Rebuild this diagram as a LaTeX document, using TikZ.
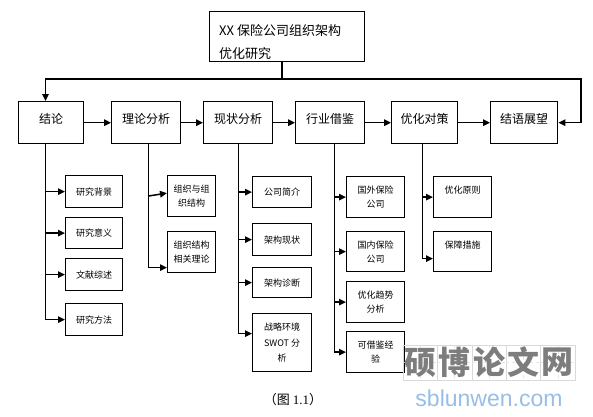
\documentclass[tikz,border=0pt]{standalone}
\usepackage{fontspec}
\setmainfont{Noto Sans CJK SC}
\newfontfamily\lser{Liberation Serif}
\newfontfamily\lsans{Liberation Sans}
\usetikzlibrary{arrows.meta,calc}
\definecolor{wmgrey}{RGB}{125,125,125}
\definecolor{wmblue}{RGB}{150,190,230}
\begin{document}
\begin{tikzpicture}[x=1pt,y=-1pt,
  tip/.tip={Triangle[length=7pt,width=6.5pt]},
  topbox/.style={draw, line width=1.4pt, anchor=north west, inner sep=0pt,
    minimum height=42pt, font=\fontsize{12}{14}\selectfont, text height=8pt, text depth=7pt},
  subbox/.style={draw, line width=1.2pt, anchor=north west, inner sep=0pt,
    align=center, font=\fontsize{9}{14}\selectfont},
  mainline/.style={line width=1.5pt},
  vline/.style={line width=0.9pt},
  stub/.style={line width=1.5pt, -tip},
  wmchar/.style={font=\fontsize{32}{32}\selectfont\bfseries, text=wmgrey, inner sep=0pt},
]
\useasboundingbox (0,0) rectangle (593,416);

% title
\node[draw, line width=1.4pt, anchor=north west, minimum width=155pt, minimum height=50pt, inner sep=0pt] (title) at (209,11) {};
\node[anchor=west, align=left, inner sep=0pt, font=\fontsize{13}{23}\selectfont] (titletext) at (219,42) {XX 保险公司组织架构\\优化研究};

% top row
\node[topbox, minimum width=65pt] (b1) at (18,101) {结论};
\node[topbox, minimum width=69pt] (b2) at (111,101) {理论分析};
\node[topbox, minimum width=69pt] (b3) at (203,101) {现状分析};
\node[topbox, minimum width=69pt] (b4) at (295,101) {行业借鉴};
\node[topbox, minimum width=66pt] (b5) at (391,101) {优化对策};
\node[topbox, minimum width=67pt] (b6) at (490,101) {结语展望};

% sub boxes
\node[subbox, minimum width=57pt, minimum height=32pt] (s11) at (65,175) {研究背景};
\node[subbox, minimum width=57pt, minimum height=31pt] (s12) at (65,217) {研究意义};
\node[subbox, minimum width=57pt, minimum height=32pt] (s13) at (65,258) {文献综述};
\node[subbox, minimum width=57pt, minimum height=32pt] (s14) at (65,303) {研究方法};

\node[subbox, minimum width=48pt, minimum height=41pt] (s21) at (167,175) {组织与组\\织结构};
\node[subbox, minimum width=48pt, minimum height=41pt] (s22) at (167,231) {组织结构\\相关理论};

\node[subbox, minimum width=59pt, minimum height=31pt] (s31) at (252,176) {公司简介};
\node[subbox, minimum width=59pt, minimum height=32pt] (s32) at (252,223) {架构现状};
\node[subbox, minimum width=59pt, minimum height=30pt] (s33) at (252,267) {架构诊断};
\node[subbox, minimum width=59pt, minimum height=58pt, font=\fontsize{9}{15.5}\selectfont] (s34) at (252,313) {战略环境\\SWOT 分\\析};

\node[subbox, minimum width=58pt, minimum height=41pt] (s41) at (346,176) {国外保险\\公司};
\node[subbox, minimum width=58pt, minimum height=40pt] (s42) at (346,231) {国内保险\\公司};
\node[subbox, minimum width=58pt, minimum height=41pt] (s43) at (346,281) {优化趋势\\分析};
\node[subbox, minimum width=58pt, minimum height=41pt] (s44) at (346,331) {可借鉴经\\验};

\node[subbox, minimum width=58pt, minimum height=41pt] (s51) at (433,176) {优化原则\\\mbox{}};
\node[subbox, minimum width=58pt, minimum height=40pt] (s52) at (433,231) {保障措施\\\mbox{}};

% top connectors
\coordinate (tj) at (282,79);
\coordinate (tl) at (45.5,79);
\coordinate (tr) at (581,79);
\draw[mainline] (title.south -| tj) -- (tj);
\draw[mainline, -tip] (tj) -- (tl) -- (b1.north -| tl);
\draw[mainline, -tip] (tj) -- (tr) |- (b6.east);
\draw[mainline, -tip] (b1.east) -- (b2.west);
\draw[mainline, -tip] (b2.east) -- (b3.west);
\draw[mainline, -tip] (b3.east) -- (b4.west);
\draw[mainline, -tip] (b4.east) -- (b5.west);
\draw[mainline, -tip] (b5.east) -- (b6.west);

% branch 1
\coordinate (v1) at (45.5,143);
\draw[vline] (v1) -- (v1 |- s14.west);
\foreach \s in {s11,s12,s13,s14} \draw[stub] (v1 |- \s.west) -- (\s.west);

% branch 2
\coordinate (v2) at (148,143);
\coordinate (a22) at ($(s22.west)+(0,15.5)$);
\draw[vline] (v2) -- (v2 |- a22);
\draw[stub] (v2 |- s21.west) -- ($(s21.west)+(0,-3)$);
\draw[stub] (v2 |- a22) -- (a22);

% branch 3
\coordinate (v3) at (238,143);
\coordinate (a34) at ($(s34.west)+(0,-9)$);
\draw[vline] (v3) -- (v3 |- a34);
\foreach \s in {s31,s32,s33} \draw[stub] (v3 |- \s.west) -- (\s.west);
\draw[stub] (v3 |- a34) -- (a34);

% branch 4
\coordinate (v4) at (334,143);
\draw[vline] (v4) -- (v4 |- s44.west);
\foreach \s in {s41,s42,s43,s44} \draw[stub] (v4 |- \s.west) -- (\s.west);

% branch 5
\coordinate (v5) at (422,143);
\coordinate (a52) at ($(s52.west)+(0,7)$);
\draw[vline] (v5) -- (v5 |- a52);
\draw[stub] (v5 |- s51.west) -- (s51.west);
\draw[stub] (v5 |- a52) -- (a52);

% caption
\node[font=\fontsize{13}{15}\selectfont] (cap) at (293,400) {（图 {\lser 1.1}）};

% watermark
\foreach \i in {0,...,4} {
  \draw[gray!30, line width=0.5pt] (403+34.4*\i,345) rectangle ++(34.4,35);
  \draw[gray!20, line width=0.4pt, dashed] (403+34.4*\i+17.2,345) -- ++(0,35)
        (403+34.4*\i,362.5) -- ++(34.4,0);
}
\node[wmchar] (wm1) at (420.2,362.5) {硕};
\node[wmchar] (wm2) at (454.6,362.5) {博};
\node[wmchar] (wm3) at (489.0,362.5) {论};
\node[wmchar] (wm4) at (523.4,362.5) {文};
\node[wmchar] (wm5) at (557.8,362.5) {网};
\node[font=\lsans\fontsize{23}{23}\selectfont, text=wmblue, inner sep=0pt] (wmurl) at (489,398) {sblunwen.com};
\end{tikzpicture}
\end{document}
